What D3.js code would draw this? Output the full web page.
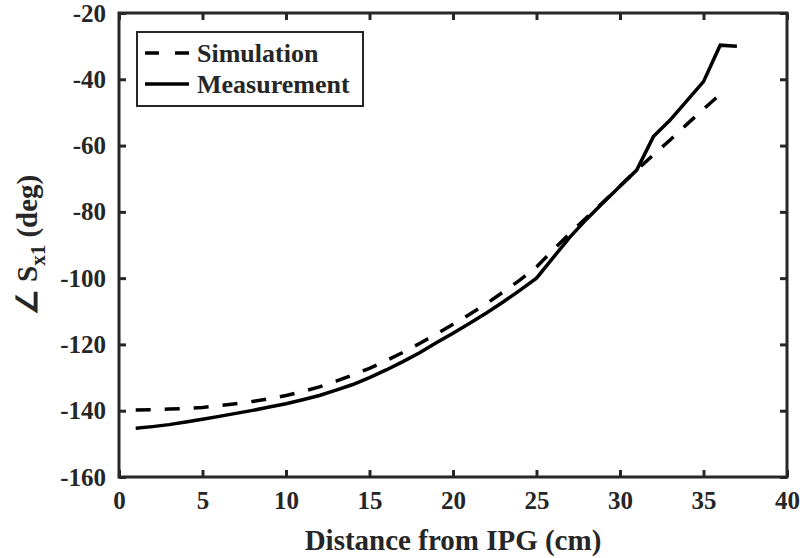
<!DOCTYPE html>
<html>
<head>
<meta charset="utf-8">
<script src="https://cdn.jsdelivr.net/npm/d3@7"></script>
<style>
  body { margin: 0; background: #fff; }
  text { font-family: "Liberation Serif", "Times New Roman", serif; font-weight: bold; fill: #262626; }
</style>
</head>
<body>
<div class="chartContainer"></div>
<script>
var distance = d3.range(1, 38);
var simDistance = d3.range(1, 37);
var simulation = [-139.8, -139.7, -139.5, -139.3, -139.0, -138.5, -137.9, -137.2, -136.4, -135.4,
  -134.2, -132.8, -131.1, -129.2, -127.2, -124.9, -122.4, -119.7, -116.9, -113.9,
  -110.9, -107.7, -104.2, -100.6, -96.6, -91.5, -86.5, -81.7, -77.0, -72.2,
  -67.4, -62.8, -58.3, -53.6, -49.0, -44.5];
var measurement = [-145.3, -144.8, -144.2, -143.4, -142.6, -141.7, -140.8, -139.9, -138.9, -137.9,
  -136.7, -135.4, -133.8, -132.1, -130.0, -127.7, -125.2, -122.5, -119.5, -116.6,
  -113.6, -110.5, -107.2, -103.7, -100.0, -93.8, -87.6, -82.2, -77.2, -72.3,
  -67.4, -57.3, -52.3, -46.5, -40.7, -29.7, -30.0];
var xTicks = [0, 5, 10, 15, 20, 25, 30, 35, 40];
var yTicks = [-160, -140, -120, -100, -80, -60, -40, -20];
var legendLabels = ["Simulation", "Measurement"];

var width = 806;
var height = 558;
var plotLeft = 119, plotRight = 787, plotTop = 13, plotBottom = 477;

var svg = d3.select(".chartContainer")
  .append("svg")
    .attr("width", width)
    .attr("height", height);

var x = d3.scaleLinear().domain([0, 40]).range([plotLeft, plotRight]);
var y = d3.scaleLinear().domain([-160, -20]).range([plotBottom, plotTop]);

// ======= axes ========
// plain hyphen for negatives, like the original figure
var plainNum = function(d) { return String(d); };
var xAxis = d3.axisBottom(x).tickValues(xTicks).tickSize(-7).tickPadding(14).tickFormat(plainNum);
var yAxis = d3.axisLeft(y).tickValues(yTicks).tickSize(-7).tickPadding(13).tickFormat(plainNum);
var xAxisTop = d3.axisTop(x).tickValues(xTicks).tickSize(-7).tickFormat("");
var yAxisRight = d3.axisRight(y).tickValues(yTicks).tickSize(-7).tickFormat("");

function styleAxis(g) {
  g.attr("font-family", null);
  g.select(".domain").remove();
  g.selectAll(".tick line").attr("stroke", "#262626").attr("stroke-width", 3);
  g.selectAll(".tick text").style("font-size", "25px").attr("fill", "#262626");
}

svg.append("g").attr("transform", "translate(0," + plotBottom + ")").call(xAxis).call(styleAxis);
svg.append("g").attr("transform", "translate(" + plotLeft + ",0)").call(yAxis).call(styleAxis);
svg.append("g").attr("transform", "translate(0," + plotTop + ")").call(xAxisTop).call(styleAxis);
svg.append("g").attr("transform", "translate(" + plotRight + ",0)").call(yAxisRight).call(styleAxis);

svg.append("rect")
  .attr("x", plotLeft).attr("y", plotTop)
  .attr("width", plotRight - plotLeft).attr("height", plotBottom - plotTop)
  .attr("fill", "none").attr("stroke", "#262626").attr("stroke-width", 3);

// ======= lines ========
var line = d3.line()
  .x(function(d) { return x(d[0]); })
  .y(function(d) { return y(d[1]); });

svg.append("path")
  .datum(d3.zip(simDistance, simulation))
  .attr("d", line)
  .attr("fill", "none")
  .attr("stroke", "#000")
  .attr("stroke-width", 3.5)
  .attr("stroke-dasharray", "15,14");

svg.append("path")
  .datum(d3.zip(distance, measurement))
  .attr("d", line)
  .attr("fill", "none")
  .attr("stroke", "#000")
  .attr("stroke-width", 3.5)
  .attr("stroke-linejoin", "miter");

// ======= labels ========
svg.append("text")
  .attr("x", (plotLeft + plotRight) / 2)
  .attr("y", 550)
  .attr("text-anchor", "middle")
  .style("font-size", "29px")
  .text("Distance from IPG (cm)");

var yLabel = svg.append("text")
  .attr("transform", "translate(37," + ((plotTop + plotBottom) / 2) + ") rotate(-90)")
  .attr("text-anchor", "middle")
  .style("font-size", "29px");
yLabel.append("tspan").text("\u2220 S");
yLabel.append("tspan").attr("dy", 8).style("font-size", "21px").text("x1");
yLabel.append("tspan").attr("dy", -8).text(" (deg)");

// ======= legend ========
var legend = svg.append("g").attr("class", "legend");
legend.append("rect")
  .attr("x", 137).attr("y", 32)
  .attr("width", 226).attr("height", 74)
  .attr("fill", "#fff").attr("stroke", "#262626").attr("stroke-width", 2);

var items = legend.selectAll(".item")
  .data(legendLabels)
  .enter().append("g")
    .attr("class", "item")
    .attr("transform", function(d, i) { return "translate(0," + (53 + i * 31) + ")"; });

items.append("line")
  .attr("x1", 145).attr("x2", 189)
  .attr("stroke", "#000")
  .attr("stroke-width", 3.5)
  .attr("stroke-dasharray", function(d, i) { return i === 0 ? "14,16" : null; });

items.append("text")
  .attr("x", 197)
  .attr("y", 9)
  .style("font-size", "26px")
  .text(function(d) { return d; });
</script>
</body>
</html>
